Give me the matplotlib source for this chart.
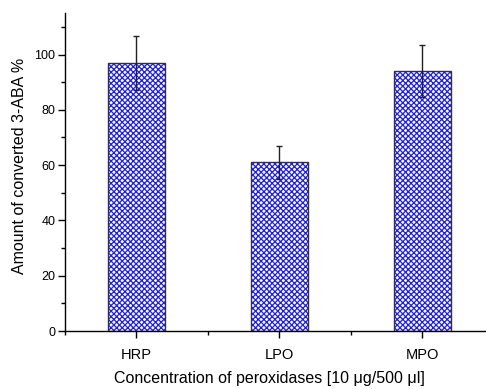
import matplotlib.pyplot as plt
import numpy as np

plt.rcParams['font.family'] = ['Liberation Sans', 'DejaVu Sans']
plt.rcParams['hatch.linewidth'] = 0.9

enzymes = ["HRP", "LPO", "MPO"]
converted = [97.0, 61.0, 94.0]
errors = [9.7, 6.0, 9.5]

x = np.arange(1, len(enzymes) + 1)

fig = plt.figure(figsize=(4.86, 3.89), dpi=100)
ax = fig.add_axes([0.1337, 0.149, 0.8827, 0.8175])

# hatch in blue, outline in grey
ax.bar(x, converted, width=0.4, color='white', edgecolor='#1a1aff', hatch='xxxxxx', linewidth=0, zorder=2)
ax.bar(x, converted, width=0.4, fill=False, edgecolor='#333333', linewidth=1.0, zorder=3)
ax.errorbar(x, converted, yerr=errors, fmt='none', ecolor='#222222', elinewidth=1.0,
            capsize=2.5, capthick=1.0, zorder=4)

ax.set_xlim(0.5, 3.5)
ax.set_ylim(0, 115)
ax.set_xticks(x)
ax.set_xticklabels(enzymes)
ax.set_xticks([0.5, 1.5, 2.5, 3.5], minor=True)
ax.set_yticks([0, 20, 40, 60, 80, 100])
ax.set_yticks([10, 30, 50, 70, 90, 110], minor=True)

ax.spines['top'].set_visible(False)
ax.spines['right'].set_visible(False)
ax.spines['left'].set_linewidth(1.0)
ax.spines['bottom'].set_linewidth(1.0)
ax.tick_params(which='major', direction='out', length=5, width=1.0, labelsize=9, pad=2)
ax.tick_params(which='minor', direction='out', length=3, width=1.0)
ax.tick_params(axis='x', which='major', labelsize=10.5, pad=7)

ax.set_xlabel('Concentration of peroxidases [10 μg/500 μl]', fontsize=11.5)
ax.set_ylabel('Amount of converted 3-ABA %', fontsize=11.5)
ax.xaxis.set_label_coords(0.477, -0.125)
ax.yaxis.set_label_coords(-0.088, 0.519)

fig.savefig('out.png', dpi=100)
